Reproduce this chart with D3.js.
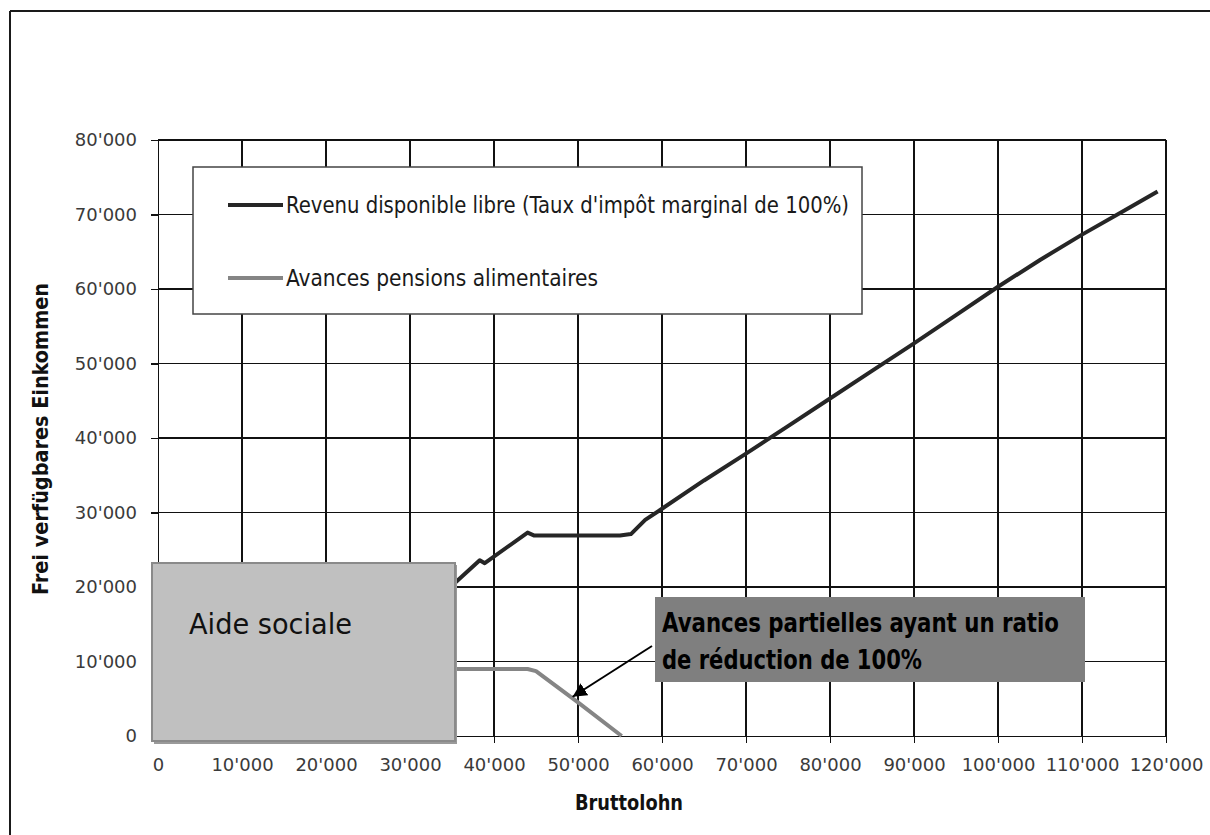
<!DOCTYPE html>
<html><head><meta charset="utf-8">
<script src="https://cdn.jsdelivr.net/npm/d3@7"></script>
<style>
html,body{margin:0;padding:0;background:#fff;}
svg{display:block;}
</style></head><body>
<svg id="chart" width="1210" height="835"></svg>
<script>
// Free disposable income by gross wage
const revenuWage   = [34000, 35500, 38300, 38900, 44000, 44800, 50000, 55000, 56300, 58000, 60000, 65000, 70000, 75000, 80000, 85000, 90000, 95000, 100000, 105000, 110000, 115000, 119000];
const revenuValues = [19200, 20700, 23600, 23200, 27300, 26900, 26900, 26900, 27100, 29000, 30500, 34300, 37900, 41600, 45300, 49000, 52700, 56500, 60300, 63900, 67300, 70500, 73100];
// Maintenance advance payments
const avanceWage   = [34000, 44000, 45000, 50000, 55200];
const avanceValues = [9000, 9000, 8700, 4500, 0];

const xTicks = [0, 10000, 20000, 30000, 40000, 50000, 60000, 70000, 80000, 90000, 100000, 110000, 120000];
const yTicks = [0, 10000, 20000, 30000, 40000, 50000, 60000, 70000, 80000];
const seriesNames = ["Revenu disponible libre (Taux d'impôt marginal de 100%)", "Avances pensions alimentaires"];
const seriesColors = ["#262626", "#858585"];
const xTitle = "Bruttolohn";
const yTitle = "Frei verfügbares Einkommen";
const aideLabel = "Aide sociale";
const noteLines = ["Avances partielles ayant un ratio", "de réduction de 100%"];
const notePoint = [49000, 5000];

const condensed = "'Liberation Sans Narrow','DejaVu Sans Condensed','Roboto Condensed','Roboto',sans-serif";
const tickFont = "'DejaVu Sans','Liberation Sans',sans-serif";

const svg = d3.select("#chart");
const fmt = d3.formatLocale({decimal: ".", thousands: "'", grouping: [3], currency: ["", ""]}).format(",d");

const x = d3.scaleLinear().domain([0, 120000]).range([158, 1166]);
const y = d3.scaleLinear().domain([0, 80000]).range([736, 140]);

// outer frame (left and top edges; the rest runs past the page)
const frame = svg.append("g").attr("stroke", "#1a1a1a").attr("stroke-width", 2);
frame.append("line").attr("x1", 10).attr("y1", 11).attr("x2", 1210).attr("y2", 11);
frame.append("line").attr("x1", 10).attr("y1", 11).attr("x2", 10).attr("y2", 835);

// grid
const grid = svg.append("g").attr("stroke", "#111").attr("stroke-width", 1.2).attr("shape-rendering", "crispEdges");
grid.selectAll("line.v").data(xTicks.slice(1)).join("line")
  .attr("x1", d => x(d)).attr("x2", d => x(d)).attr("y1", y(80000)).attr("y2", y(0));
grid.selectAll("line.h").data(yTicks.slice(1)).join("line")
  .attr("x1", x(0)).attr("x2", x(120000)).attr("y1", d => y(d)).attr("y2", d => y(d));

// axes
const xAxis = svg.append("g").attr("transform", `translate(0,${y(0)})`)
  .call(d3.axisBottom(x).tickValues(xTicks).tickFormat(fmt).tickSize(7).tickSizeOuter(0).tickPadding(15));
const yAxis = svg.append("g").attr("transform", `translate(${x(0)},0)`)
  .call(d3.axisLeft(y).tickValues(yTicks).tickFormat(fmt).tickSize(7).tickSizeOuter(0).tickPadding(14));
[xAxis, yAxis].forEach(a => {
  a.selectAll("path,line").attr("stroke", "#111").attr("stroke-width", 1.2).attr("shape-rendering", "crispEdges");
  a.selectAll("text").attr("fill", "#3a3a3a").style("font-family", tickFont).style("font-size", "18px");
});

// series lines
const line = d3.line().x(d => x(d[0])).y(d => y(d[1]));
const revenu = revenuWage.map((w, i) => [w, revenuValues[i]]);
const avance = avanceWage.map((w, i) => [w, avanceValues[i]]);
svg.append("path").datum(avance).attr("d", line).attr("fill", "none")
  .attr("stroke", seriesColors[1]).attr("stroke-width", 4).attr("stroke-linejoin", "round");
svg.append("path").datum(revenu).attr("d", line).attr("fill", "none")
  .attr("stroke", seriesColors[0]).attr("stroke-width", 4).attr("stroke-linejoin", "round");

// axis titles
svg.append("text").attr("x", 629).attr("y", 810).attr("text-anchor", "middle")
  .style("font-family", condensed).style("font-weight", "bold").style("font-size", "22px")
  .attr("textLength", 108).attr("lengthAdjust", "spacingAndGlyphs").attr("fill", "#111").text(xTitle);
svg.append("text").attr("transform", "translate(48,439) rotate(-90)").attr("text-anchor", "middle")
  .style("font-family", condensed).style("font-weight", "bold").style("font-size", "22px")
  .attr("textLength", 312).attr("lengthAdjust", "spacingAndGlyphs").attr("fill", "#111").text(yTitle);

// legend
const legend = svg.append("g");
legend.append("rect").attr("x", 193).attr("y", 167).attr("width", 669).attr("height", 147)
  .attr("fill", "#fff").attr("stroke", "#444").attr("stroke-width", 1.5);
const rows = legend.selectAll("g.row").data(seriesNames).join("g")
  .attr("transform", (d, i) => `translate(0,${205 + i * 73})`);
rows.append("line").attr("x1", 228).attr("x2", 283).attr("y1", 0).attr("y2", 0)
  .attr("stroke", (d, i) => seriesColors[i]).attr("stroke-width", 4);
rows.append("text").attr("x", 286).attr("y", 8)
  .style("font-family", condensed).style("font-size", "23px").attr("fill", "#1a1a1a")
  .attr("textLength", (d, i) => i === 0 ? 563 : 312).attr("lengthAdjust", "spacingAndGlyphs")
  .text(d => d);

// social assistance box
svg.append("rect").attr("x", 154).attr("y", 565).attr("width", 303).attr("height", 179).attr("fill", "#9a9a9a");
svg.append("rect").attr("x", 152).attr("y", 563).attr("width", 303).attr("height", 178)
  .attr("fill", "#c0c0c0").attr("stroke", "#8a8a8a").attr("stroke-width", 2);
svg.append("text").attr("x", 189).attr("y", 634)
  .style("font-family", condensed).style("font-size", "28px").attr("fill", "#111")
  .attr("textLength", 163).attr("lengthAdjust", "spacingAndGlyphs").text(aideLabel);

// annotation box and arrow
svg.append("rect").attr("x", 655).attr("y", 597).attr("width", 430).attr("height", 85).attr("fill", "#7f7f7f");
svg.selectAll("text.note").data(noteLines).join("text").attr("class", "note")
  .attr("x", 662).attr("y", (d, i) => 632 + i * 37)
  .style("font-family", condensed).style("font-weight", "bold").style("font-size", "26px").attr("fill", "#000")
  .attr("textLength", (d, i) => i === 0 ? 397 : 260).attr("lengthAdjust", "spacingAndGlyphs").text(d => d);

const defs = svg.append("defs");
defs.append("marker").attr("id", "arrowHead").attr("viewBox", "0 0 10 10").attr("refX", 10).attr("refY", 5)
  .attr("markerWidth", 7).attr("markerHeight", 7).attr("markerUnits", "strokeWidth").attr("orient", "auto")
  .append("path").attr("d", "M0,0L10,5L0,10Z").attr("fill", "#000");
svg.append("line").attr("x1", 652).attr("y1", 646)
  .attr("x2", x(notePoint[0]) + 3).attr("y2", y(notePoint[1]) - 2)
  .attr("stroke", "#000").attr("stroke-width", 2).attr("marker-end", "url(#arrowHead)");
</script>
</body></html>
